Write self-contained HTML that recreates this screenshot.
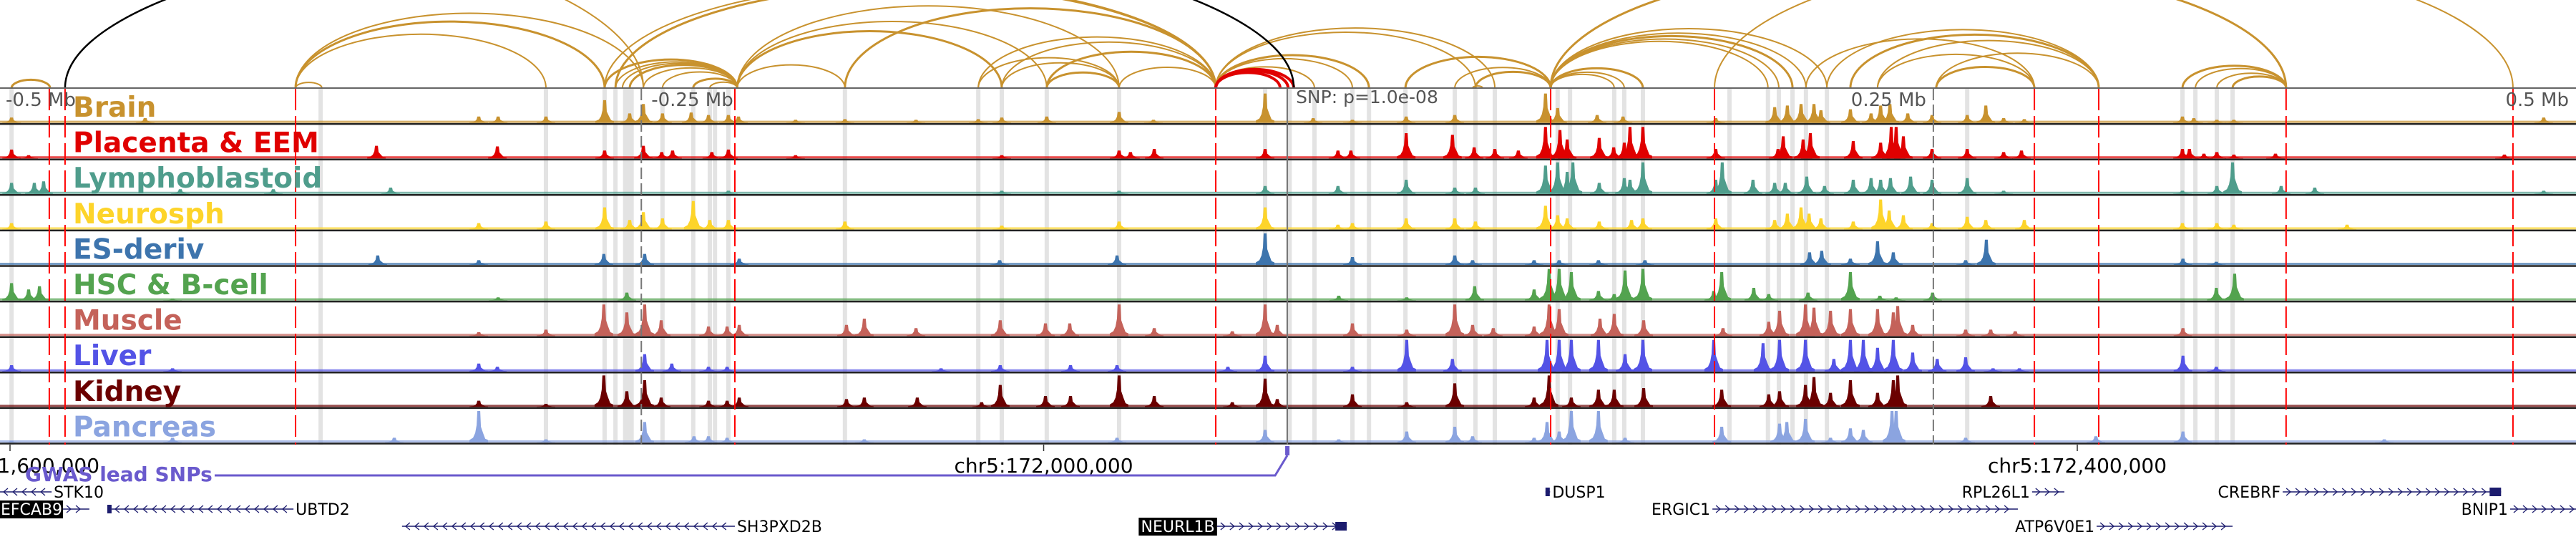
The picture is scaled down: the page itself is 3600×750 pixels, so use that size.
<!DOCTYPE html>
<html><head><meta charset="utf-8"><title>Regulatory tracks</title>
<style>
html,body{margin:0;padding:0;background:#fff;}
svg{display:block;font-family:"DejaVu Sans","Liberation Sans",sans-serif;}
</style></head>
<body>
<svg id="chart" xmlns="http://www.w3.org/2000/svg" width="3600" height="750" viewBox="0 0 3600 750">
<g id="bands"></g>
<g id="arcs"></g>
<g id="tracks"></g>
<g id="vlines"></g>
<g id="labels"></g>
<g id="axis"></g>
<g id="genes"></g>
</svg>
<script>
// ---- data (positions in kb from chr5:171,600,000) ----
const brainPos=[0.6,52.3,181.4,188.9,207.4,230.1,239.8,245.1,252.5,263.6,270.3,278.0,281.9,304.0,323.1,350.6,374.7,383.8,401.2,429.2,442.5,485.7,504.3,519.5,540.3,559.1,594.2,598.9,614.2,624.2,660.1,682.9,687.8,693.1,698.1,700.8,712.2,720.2,723.9,727.5,734.4,743.8,757.4,764.6,771.5,779.5,840.7,845.1,854.0,860.6,980.5];
const brainVal=[.17,.15,.2,.2,.2,.72,.3,.6,.3,.33,.25,.25,.2,.1,.12,.1,.12,.17,.2,.35,.1,.93,.15,.1,.2,.25,.93,.47,.25,.2,.15,.5,.55,.6,.6,.4,.43,.3,.55,.6,.3,.25,.25,.55,.15,.12,.2,.15,.1,.1,.17];
const placPos=[0.6,7.2,141.8,188.6,230.1,245.1,252.2,256.4,271.6,278.0,304.0,383.8,429.2,433.6,442.8,485.7,513.9,518.9,540.3,558.2,566.6,574.6,583.7,594.2,599.8,602.6,615.0,620.6,624.7,626.9,631.9,660.1,684.2,686.2,693.9,696.7,713.3,723.9,728.0,729.9,732.7,743.8,757.4,771.5,778.4,840.7,843.4,849.0,854.0,860.6,876.7,965.3];
const placVal=[.28,.1,.4,.38,.25,.4,.2,.25,.2,.28,.1,.1,.25,.2,.3,.3,.25,.25,.8,.75,.35,.3,.25,1,.9,.6,.65,.35,.5,1,1,.3,.3,.7,.6,.8,.55,.5,1,1,.7,.3,.3,.2,.25,.3,.3,.15,.2,.12,.15,.12];
const lymPos=[0.6,9.4,13.0,65.9,101.9,147.3,278.0,383.8,429.2,485.7,513.9,540.3,559.1,567.1,594.2,598.9,602.6,604.8,615.0,624.7,626.9,631.9,660.1,662.6,674.5,682.9,687.0,695.3,702.2,713.3,720.2,723.9,727.7,735.5,743.8,757.4,771.5,840.7,854.0,860.1,878.9,891.9,980.5];
const lymVal=[.35,.35,.4,.15,.15,.2,.1,.1,.1,.25,.25,.45,.2,.2,.9,1,.7,1,.35,.5,.45,1,.45,1,.45,.35,.35,.55,.25,.45,.5,.45,.5,.55,.45,.5,.1,.1,.25,1,.25,.2,.1];
const neuPos=[0.6,181.4,207.4,230.1,239.8,245.1,252.5,264.4,270.8,278.0,323.1,383.8,429.2,485.7,513.9,519.5,540.3,559.1,567.1,594.2,598.9,602.6,615.0,627.5,631.9,660.1,682.9,687.8,693.1,696.2,700.8,713.3,723.9,727.2,732.7,743.8,757.4,764.6,779.5,840.7,854.0,860.6,904.4];
const neuVal=[.2,.2,.25,.7,.3,.55,.35,.9,.3,.3,.25,.12,.25,.7,.15,.2,.35,.35,.25,.75,.45,.35,.25,.3,.35,.35,.3,.5,.7,.5,.35,.25,.95,.6,.45,.2,.4,.3,.3,.2,.2,.15,.15];
const esPos=[142.3,181.4,229.8,245.6,282.2,383.0,428.4,485.7,519.5,559.1,566.0,589.8,599.5,614.7,632.7,696.4,701.1,712.2,722.7,728.8,756.8,764.8,840.9,853.8];
const esVal=[.3,.15,.35,.35,.2,.15,.3,1,.25,.3,.15,.15,.15,.15,.15,.4,.45,.2,.75,.4,.15,.8,.2,.1];
const hscPos=[0.6,7.2,11.4,62.9,188.9,238.7,514.2,540.5,566.8,589.8,595.6,599.5,604.2,614.7,620.8,625.0,631.9,659.3,662.4,674.8,680.6,695.8,712.2,723.6,729.9,744.0,853.8,860.9];
const hscVal=[.55,.35,.45,.05,.1,.25,.15,.1,.45,.35,1,1,.9,.3,.2,.95,1,.3,.9,.4,.2,.25,.9,.15,.1,.25,.4,.85];
const musPos=[181.4,207.4,229.8,238.7,245.6,252.0,270.3,277.5,282.2,323.7,330.6,350.6,383.2,400.7,410.1,429.2,442.8,473.0,485.7,490.4,519.5,540.5,559.1,566.0,574.0,589.8,595.6,599.5,615.3,620.8,632.2,662.9,680.6,684.8,694.8,698.1,704.5,712.2,722.7,728.8,730.5,736.3,756.8,766.5,776.0,840.9];
const musVal=[.12,.2,1,.75,1,.5,.3,.3,.35,.35,.55,.25,.5,.4,.4,1,.25,.15,1,.35,.4,.2,1,.35,.25,.3,1,.85,.55,.7,.5,.25,.45,.8,1,.9,.8,.85,.85,.75,.95,.35,.2,.2,.15,.25];
const livPos=[0.6,62.9,181.4,188.6,245.6,256.1,270.3,277.5,360.3,383.2,410.4,428.4,471.3,485.7,519.5,540.5,558.2,594.8,599.5,604.2,614.7,625.0,631.9,659.3,678.4,684.8,694.8,705.8,712.2,717.2,722.7,728.8,736.3,745.8,756.8,767.4,777.6,840.9,853.8];
const livVal=[.2,.1,.25,.15,.55,.25,.15,.15,.1,.2,.2,.2,.15,.5,.15,1,.4,1,1,1,1,.55,1,1,.9,1,1,.4,1,1,.75,1,.6,.4,.45,.1,.1,.5,.15];
const kidPos=[181.4,207.4,229.8,238.7,245.6,252.0,270.3,277.5,282.2,323.7,330.6,351.1,376.0,383.2,400.7,410.4,429.2,442.8,473.0,485.7,490.4,519.5,540.5,559.1,589.8,595.6,604.2,614.7,620.8,632.2,662.4,680.6,684.8,694.8,698.1,704.5,712.2,722.7,728.8,730.5,766.5];
const kidVal=[.2,.1,1,.5,.85,.3,.2,.2,.3,.25,.3,.3,.15,.7,.35,.35,1,.35,.15,.9,.25,.4,.15,.75,.3,1,.3,.55,.55,.6,.55,.4,.5,.7,.95,.45,.85,.45,.85,1,.35];
const panPos=[0.6,62.9,148.7,181.4,207.4,245.6,264.7,270.3,277.5,330.6,428.4,485.7,514.2,540.5,559.1,566.0,589.8,594.8,599.5,604.2,614.7,625.0,662.4,684.8,687.6,694.8,704.5,712.2,717.2,728.3,729.9,756.8,807.2,840.9,918.8];
const panVal=[.05,.15,.15,1,.1,.65,.2,.2,.15,.1,.15,.4,.1,.35,.5,.2,.15,.65,.35,1,1,.15,.5,.6,.65,.75,.15,.45,.4,1,1,.15,.2,.35,.1];

const trackNames=["Brain","Placenta & EEM","Lymphoblastoid","Neurosph","ES-deriv","HSC & B-cell","Muscle","Liver","Kidney","Pancreas"];
const trackColors=["#c8922e","#e00000","#4f9d8c","#fdd42a","#3d74ad","#53a34f","#c4625a","#5353e6","#6b0000","#8ba4e0"];
const bandPos=[0.6,120.2,207.4,230.1,234.3,239.3,252.5,264.4,270.8,272.8,278.0,323.1,374.7,383.8,401.2,429.2,485.7,494.9,504.8,519.5,525.9,540.0,559.1,567.1,574.6,598.9,603.7,620.8,624.7,631.9,665.4,680.3,684.5,689.8,695.0,703.1,757.4,840.7,845.7,854.0,860.1];
const redLinePos=[15.2,21.3,110.5,280.5,466.6,596.2,659.6,783.4,808.3,880.8,968.6];
const snpPos=494.3;
const arcStart=[0.6,110.5,110.5,110.5,110.5,-120,230.1,234.3,237.0,239.8,245.1,252.5,264.4,270.8,281.4,281.4,281.4,281.4,323.1,374.7,383.8,401.2,374.7,383.8,401.2,429.2,230.1,234.3,466.6,466.6,466.6,466.6,466.6,540.0,559.1,566.0,567.1,596.2,596.2,596.2,596.2,596.2,596.2,596.2,596.2,596.2,659.6,695.0,712.2,722.7,722.7,745.4,745.4,703.1,840.7,845.7,854.0,860.1];
const arcEnd=[15.5,120.7,207.4,230.1,245.1,245.1,281.4,281.4,281.4,281.4,281.4,281.4,281.4,281.4,323.1,383.8,401.2,429.2,466.6,429.2,429.2,429.2,466.6,466.6,466.6,466.6,466.6,466.6,504.8,519.5,525.9,567.1,574.6,596.2,596.2,569.9,596.2,620.8,624.7,631.9,680.3,684.5,689.8,695.0,703.1,880.8,968.6,783.4,808.3,783.4,808.3,783.4,808.3,808.3,880.8,880.8,880.8,880.8];
const redArcStart=[466.6,466.6,466.6];
const redArcEnd=[491.5,494.6,496.8];
const gwasArcStart=[21.3];
const gwasArcEnd=[496.8];
const relTicks=[-0.5,-0.25,0.25,0.5];
const axisTicks=[171600000,172000000,172400000];
const geneNames=["STK10","EFCAB9","UBTD2","SH3PXD2B","NEURL1B","DUSP1","ERGIC1","RPL26L1","ATP6V0E1","CREBRF","BNIP1"];
const geneStart=[-3.9,20.5,39.3,151.7,467.1,594.2,658.8,782.5,807.5,879.5,967.5];
const geneEnd=[16.1,30.7,109.7,280.5,517.3,596.0,777.0,795.0,860.1,964.0,993.0];
const geneStrand=[-1,1,-1,-1,1,1,1,1,1,1,1];
const geneRow=[0,1,1,2,2,0,1,0,2,0,1];
const geneLabelSide=["right","boxleft","right","right","boxleft","right","left","left","left","left","left"];

// ---- scales ----
const NS="http://www.w3.org/2000/svg";
function xScale(kb){return 14+kb*3.6113;}
const TOP=124, TH=49.6, AXIS_Y=621;
function trackTop(i){return TOP+i*TH;}
function mk(tag,attrs,parent){const e=document.createElementNS(NS,tag);for(const k in attrs)e.setAttribute(k,attrs[k]);parent.appendChild(e);return e;}
const gB=document.getElementById('bands'),gA=document.getElementById('arcs'),gT=document.getElementById('tracks'),
gV=document.getElementById('vlines'),gL=document.getElementById('labels'),gX=document.getElementById('axis'),gG=document.getElementById('genes');

// bands
bandPos.forEach((p,i)=>{
  const w=(i===5)?15:(i===17?8:6);
  const r=mk('rect',{x:xScale(p)-w/2,y:TOP,width:w,height:AXIS_Y-TOP,fill:'#e3e3e3'},gB);
  
  
});

// arcs
function arcPath(a,b,ratio){const x1=xScale(a),x2=xScale(b),rx=(x2-x1)/2;const r=rx>400?0.34:ratio;return `M${x1},${TOP-1} A${rx},${rx*r} 0 0 1 ${x2},${TOP-1}`;}
arcStart.forEach((s,i)=>{
  const p=mk('path',{d:arcPath(s,arcEnd[i],0.43),fill:'none',stroke:'#c8922e','stroke-width':(i%3===0?3:2)},gA);
  
  
});
redArcStart.forEach((s,i)=>{
  const p=mk('path',{d:arcPath(s,redArcEnd[i],0.48),fill:'none',stroke:'#e00000','stroke-width':4},gA);
  
  
});
gwasArcStart.forEach((s,i)=>{
  const x1=xScale(s),x2=xScale(gwasArcEnd[i]),rx=(x2-x1)/2;
  const p=mk('path',{d:`M${x1},${TOP-1} A${rx},${rx*0.263} 0 0 1 ${x2},${TOP-1}`,fill:'none',stroke:'#000','stroke-width':2.5},gA);
  
  
});

// tracks
const posArr=[brainPos,placPos,lymPos,neuPos,esPos,hscPos,musPos,livPos,kidPos,panPos];
const valArr=[brainVal,placVal,lymVal,neuVal,esVal,hscVal,musVal,livVal,kidVal,panVal];
const MAXH=44;
trackNames.forEach((name,i)=>{
  const g=mk('g',{},gT);
  
  
  const yb=trackTop(i)+TH-2;
  const base=mk('rect',{x:0,y:yb-3,width:3600,height:3,fill:trackColors[i],opacity:0.7},g);
  
  
  posArr[i].forEach((p,j)=>{
    const x=xScale(p),H=valArr[i][j]*MAXH;
    const pts=[[x-13,yb],[x-13,yb-0.08*H],[x-8,yb-0.15*H],[x-5,yb-0.3*H],[x-3,yb-0.55*H],[x-2,yb-H],[x+2,yb-H],[x+3,yb-0.5*H],[x+6,yb-0.3*H],[x+9,yb-0.12*H],[x+13,yb-0.08*H],[x+13,yb]];
    const poly=mk('polygon',{points:pts.map(q=>q.join(',')).join(' '),fill:trackColors[i]},g);
    
    
  });
  const border=mk('line',{x1:0,x2:3600,y1:trackTop(i)+TH-0.5,y2:trackTop(i)+TH-0.5,stroke:'#222','stroke-width':2.5},g);
  
  
});
const topLine=mk('line',{x1:0,x2:3600,y1:TOP-1,y2:TOP-1,stroke:'#666','stroke-width':2},gT);



// vertical lines
redLinePos.forEach(p=>{
  const l=mk('line',{x1:xScale(p),x2:xScale(p),y1:TOP,y2:AXIS_Y,stroke:'#ff0000','stroke-width':2,'stroke-dasharray':'30 8'},gV);
  
  
});
relTicks.forEach(t=>{
  const x=xScale(snpPos+t*1000);
  const l=mk('line',{x1:x,x2:x,y1:TOP,y2:AXIS_Y,stroke:'#777','stroke-width':2,'stroke-dasharray':'16 6'},gV);
  
  
  const anchor=t<0?'start':'end';
  const tx=t===-0.5?8:(t<0?x+14:(t===0.5?3590:x-10));
  const tt=mk('text',{x:tx,y:148,'font-size':26,fill:'#555','text-anchor':anchor},gV);
  tt.textContent=t+' Mb';
  
  
});
const snpX=xScale(snpPos);
const sl=mk('line',{x1:snpX,x2:snpX,y1:TOP,y2:AXIS_Y,stroke:'#777','stroke-width':2},gV);


const st=mk('text',{x:snpX+12,y:144,'font-size':25,fill:'#555'},gV);
st.textContent='SNP: p=1.0e-08';



// track labels
trackNames.forEach((name,i)=>{
  const t=mk('text',{x:102,y:trackTop(i)+39,'font-size':39,'font-weight':'bold',fill:trackColors[i]},gL);
  t.textContent=name;
  
  
});

// genomic axis
axisTicks.forEach(v=>{
  const x=xScale((v-171600000)/1000);
  const l=mk('line',{x1:x,x2:x,y1:AXIS_Y,y2:AXIS_Y+9,stroke:'#333','stroke-width':1.5},gX);
  
  
  const t=mk('text',{x:x,y:660,'font-size':28,'text-anchor':'middle',fill:'#000'},gX);
  t.textContent='chr5:'+v.toLocaleString('en-US');
  
  
});
// GWAS lead SNP track
const gw=mk('path',{d:`M300,664 L${snpX-17},664 L${snpX},636`,fill:'none',stroke:'#6a5acd','stroke-width':3},gX);


const gm=mk('rect',{x:snpX-3,y:623,width:6,height:13,fill:'#6a5acd'},gX);


const gt=mk('text',{x:35,y:672,'font-size':28,'font-weight':'bold',fill:'#6a5acd'},gX);
gt.textContent='GWAS lead SNPs';



// genes
const rowY=[687,711,735];
geneNames.forEach((n,i)=>{
  const g=mk('g',{},gG);
  
  
  const x1=Math.max(0,xScale(geneStart[i])),x2=xScale(geneEnd[i]),y=rowY[geneRow[i]],c='#1c1c6e',s=geneStrand[i];
  mk('line',{x1:x1,x2:x2,y1:y,y2:y,stroke:c,'stroke-width':1.5},g);
  let d='';
  for(let cx=x1+8;cx<x2-4;cx+=13){d+=`M${cx-3*s},${y-5} L${cx+3*s},${y} L${cx-3*s},${y+5} `;}
  mk('path',{d:d,fill:'none',stroke:c,'stroke-width':1.3},g);
  if(n==='NEURL1B'||n==='CREBRF'){mk('rect',{x:x2-16,y:y-6,width:16,height:12,fill:c},g);}
  if(n==='UBTD2'){mk('rect',{x:x1-6,y:y-6,width:6,height:12,fill:c},g);}
  if(n==='DUSP1'){mk('rect',{x:x1,y:y-6,width:6,height:12,fill:c},g);}
  const side=geneLabelSide[i];
  if(side==='right'){const t=mk('text',{x:x2+3,y:y+8,'font-size':22,fill:'#000'},g);t.textContent=n;}
  else if(side==='left'){const t=mk('text',{x:x1-3,y:y+8,'font-size':22,fill:'#000','text-anchor':'end'},g);t.textContent=n;}
  else{const w=n.length*14.5+8;const bx=Math.max(0,x1-w);mk('rect',{x:bx,y:y-12,width:x1-bx,height:25,fill:'#000'},g);const t=mk('text',{x:(bx+x1)/2,y:y+8,'font-size':22,fill:'#fff','text-anchor':'middle'},g);t.textContent=n;}
});
</script>
</body></html>
